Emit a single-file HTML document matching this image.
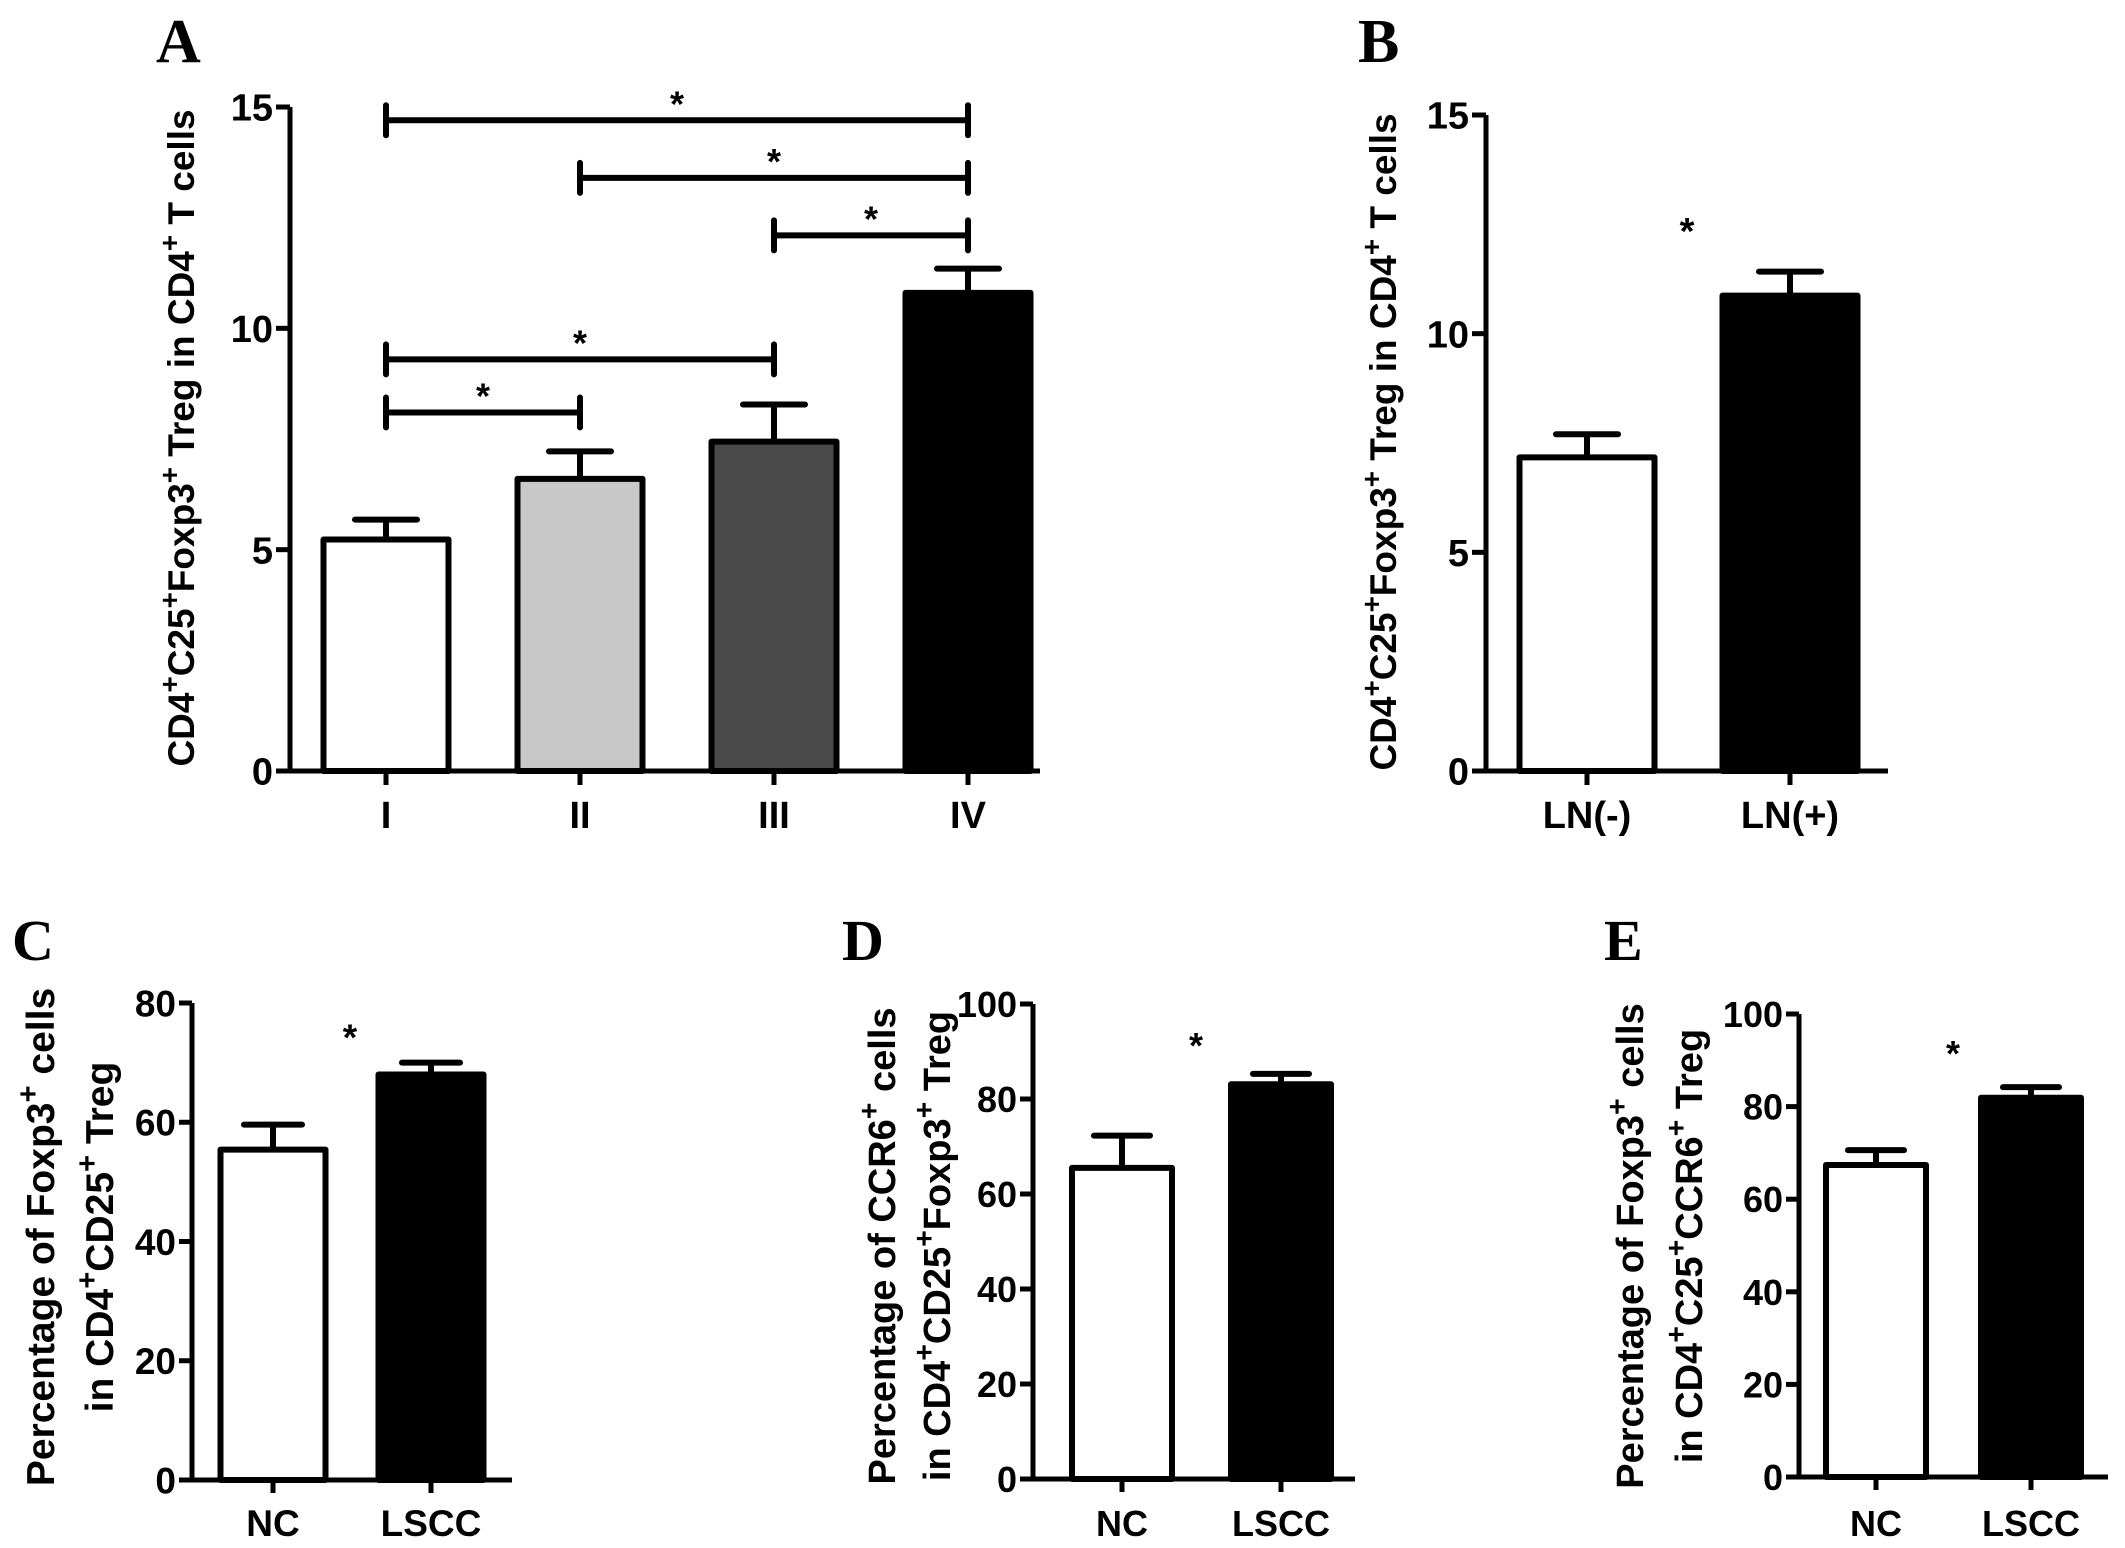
<!DOCTYPE html>
<html><head><meta charset="utf-8">
<style>
html,body{margin:0;padding:0;background:#fff;}
svg{display:block;}
text{font-family:"Liberation Sans",Arial,sans-serif;font-weight:bold;fill:#000;}
.serif{font-family:"Liberation Serif",serif;font-weight:bold;}
</style></head>
<body>
<svg id="fig" width="2125" height="1548" viewBox="0 0 2125 1548" xmlns="http://www.w3.org/2000/svg"></svg>
<script>
// Panel A data
const aCategories = ["I","II","III","IV"];
const aValues = [5.23, 6.6, 7.44, 10.8];
const aErrors = [0.45, 0.62, 0.84, 0.55];
const aTicks = [0,5,10,15];
const aSig = [[0,3,14.7],[1,3,13.4],[2,3,12.1],[0,2,9.3],[0,1,8.1]];
// Panel B data
const bCategories = ["LN(-)","LN(+)"];
const bValues = [7.17, 10.87];
const bErrors = [0.53, 0.55];
const bTicks = [0,5,10,15];
// Panel C data
const cCategories = ["NC","LSCC"];
const cValues = [55.4, 68.0];
const cErrors = [4.2, 2.0];
const cTicks = [0,20,40,60,80];
// Panel D data
const dCategories = ["NC","LSCC"];
const dValues = [65.5, 83.1];
const dErrors = [6.8, 2.2];
const dTicks = [0,20,40,60,80,100];
// Panel E data
const eCategories = ["NC","LSCC"];
const eValues = [67.4, 81.9];
const eErrors = [3.2, 2.3];
const eTicks = [0,20,40,60,80,100];

const svg = document.getElementById('fig');
const NS = 'http://www.w3.org/2000/svg';
function el(tag, attrs, parent){
  const e = document.createElementNS(NS, tag);
  for (const k in attrs) e.setAttribute(k, attrs[k]);
  (parent||svg).appendChild(e);
  return e;
}

function panel(cfg){
  const g = el('g', {});
  
  
  const ymax = cfg.ticks[cfg.ticks.length-1];
  const Y = v => cfg.y0 - (v/ymax)*(cfg.y0 - cfg.yTop);
  const X = i => cfg.xs[i];
  const L = el('text', {x:cfg.letterX, y:cfg.letterY, 'font-size':cfg.letterSize, class:'serif'}, g);
  L.textContent = cfg.letter;
  
  
  cfg.values.forEach((v,i)=>{
    const cx = X(i), w = cfg.barW, sw = cfg.sw;
    const top = Y(v), et = Y(v + cfg.errors[i]);
    const eb = el('line', {x1:cx, x2:cx, y1:top, y2:et, stroke:'#000','stroke-width':sw}, g);
    
    
    const cap = el('line', {x1:cx-cfg.capW/2, x2:cx+cfg.capW/2, y1:et, y2:et, stroke:'#000','stroke-width':sw,'stroke-linecap':'round'}, g);
    
    
    const r = el('rect', {x:cx-w/2+sw/2, y:top, width:w-sw, height:cfg.y0-top, fill:cfg.fills[i], stroke:'#000','stroke-width':sw,'stroke-linejoin':'round'}, g);
    
    
  });
  const ya = el('line', {x1:cfg.ax, x2:cfg.ax, y1:cfg.yTop, y2:cfg.y0, stroke:'#000','stroke-width':cfg.axW}, g);
  
  
  const xa = el('line', {x1:cfg.ax-cfg.tickLen, x2:cfg.xEnd, y1:cfg.y0, y2:cfg.y0, stroke:'#000','stroke-width':cfg.axW}, g);
  
  
  cfg.ticks.forEach(t=>{
    const y = Y(t);
    const tl = el('line', {x1:cfg.ax-cfg.tickLen, x2:cfg.ax, y1:y, y2:y, stroke:'#000','stroke-width':cfg.axW}, g);
    
    
    const tx = el('text', {x:cfg.ax-cfg.tickLen-3, y:y+cfg.fs*0.36, 'font-size':cfg.fs, 'text-anchor':'end'}, g);
    tx.textContent = t;
    
    
  });
  cfg.cats.forEach((c,i)=>{
    const tl = el('line', {x1:X(i), x2:X(i), y1:cfg.y0, y2:cfg.y0+cfg.tickLen, stroke:'#000','stroke-width':cfg.axW}, g);
    
    
    const tx = el('text', {x:X(i), y:cfg.catY, 'font-size':cfg.fs, 'text-anchor':'middle'}, g);
    tx.textContent = c;
    
    
  });
  cfg.ylab.forEach((ln,j)=>{
    const x = cfg.ylabX[j];
    const t = el('text', {x:0, y:0, 'font-size':cfg.ylabFs, 'text-anchor':'middle', transform:`translate(${x},${cfg.ylabY}) rotate(-90)`}, g);
    t.innerHTML = ln;
    
    
  });
  (cfg.stars||[]).forEach(s=>{
    const t = el('text', {x:s[0], y:s[1], 'font-size':cfg.fs, 'text-anchor':'middle', 'font-weight':'normal'}, g);
    t.textContent = '*';
    
    
  });
  return {g, X, Y};
}

const sup = s => `<tspan baseline-shift="super" font-size="75%">${s}</tspan>`;

const A = panel({name:'panel-a', letter:'A', letterX:156, letterY:62, letterSize:62,
  cats:aCategories, values:aValues, errors:aErrors, ticks:aTicks,
  fills:['#ffffff','#c8c8c8','#4a4a4a','#000000'],
  xs:[386,580,774,968], barW:131, capW:62, sw:6, ax:290, axW:5, tickLen:14,
  y0:771, yTop:107, xEnd:1040, fs:38, catY:828,
  ylab:['CD4'+sup('+')+'C25'+sup('+')+'Foxp3'+sup('+')+' Treg in CD4'+sup('+')+' T cells'],
  ylabX:[194], ylabY:438, ylabFs:37});
aSig.forEach(s=>{
  const x1 = A.X(s[0]), x2 = A.X(s[1]), y = A.Y(s[2]);
  const ln = el('path', {d:`M${x1},${y}H${x2}M${x1},${y-15}V${y+15}M${x2},${y-15}V${y+15}`, stroke:'#000','stroke-width':6,'stroke-linecap':'round',fill:'none'}, A.g);
  
  
  const t = el('text', {x:(x1+x2)/2, y:y-4, 'font-size':36, 'text-anchor':'middle', 'font-weight':'normal'}, A.g);
  t.textContent = '*';
  
  
});

panel({name:'panel-b', letter:'B', letterX:1358, letterY:62, letterSize:62,
  cats:bCategories, values:bValues, errors:bErrors, ticks:bTicks,
  fills:['#ffffff','#000000'],
  xs:[1587,1790], barW:141, capW:62, sw:6, ax:1486, axW:5, tickLen:14,
  y0:771, yTop:115, xEnd:1888, fs:38, catY:828,
  ylab:['CD4'+sup('+')+'C25'+sup('+')+'Foxp3'+sup('+')+' Treg in CD4'+sup('+')+' T cells'],
  ylabX:[1396], ylabY:442, ylabFs:37, stars:[[1687,244]]});

panel({name:'panel-c', letter:'C', letterX:12, letterY:960, letterSize:58,
  cats:cCategories, values:cValues, errors:cErrors, ticks:cTicks,
  fills:['#ffffff','#000000'],
  xs:[273,431], barW:111, capW:58, sw:6, ax:192, axW:5, tickLen:13,
  y0:1480, yTop:1003, xEnd:512, fs:37, catY:1536,
  ylab:['Percentage of Foxp3'+sup('+')+'  cells','in CD4'+sup('+')+'CD25'+sup('+')+' Treg'],
  ylabX:[54,113], ylabY:1237, ylabFs:39, stars:[[350,1050]]});

panel({name:'panel-d', letter:'D', letterX:842, letterY:960, letterSize:58,
  cats:dCategories, values:dValues, errors:dErrors, ticks:dTicks,
  fills:['#ffffff','#000000'],
  xs:[1122,1281], barW:106, capW:56, sw:6, ax:1033, axW:5, tickLen:13,
  y0:1479, yTop:1004, xEnd:1355, fs:36, catY:1536,
  ylab:['Percentage of CCR6'+sup('+')+'  cells','in CD4'+sup('+')+'CD25'+sup('+')+'Foxp3'+sup('+')+' Treg'],
  ylabX:[895,950], ylabY:1246, ylabFs:38, stars:[[1196,1058]]});

panel({name:'panel-e', letter:'E', letterX:1604, letterY:960, letterSize:58,
  cats:eCategories, values:eValues, errors:eErrors, ticks:eTicks,
  fills:['#ffffff','#000000'],
  xs:[1876,2031], barW:106, capW:56, sw:6, ax:1799, axW:5, tickLen:13,
  y0:1477, yTop:1014, xEnd:2108, fs:36, catY:1536,
  ylab:['Percentage of Foxp3'+sup('+')+'  cells','in CD4'+sup('+')+'C25'+sup('+')+'CCR6'+sup('+')+' Treg'],
  ylabX:[1643,1702], ylabY:1246, ylabFs:38, stars:[[1953,1066]]});
</script>
</body></html>
